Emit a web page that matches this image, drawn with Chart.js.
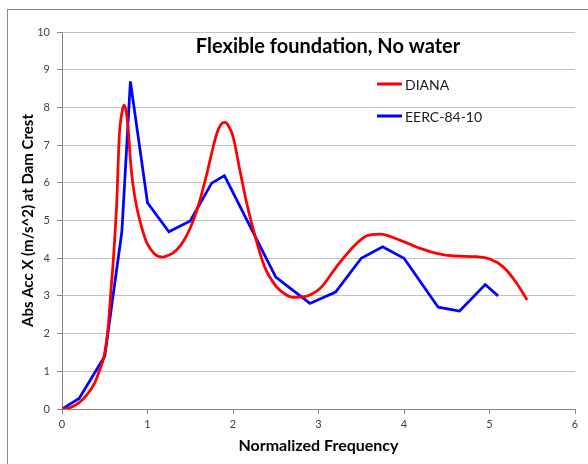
<!DOCTYPE html>
<html>
<head>
<meta charset="utf-8">
<script src="https://cdn.jsdelivr.net/npm/chart.js@4/dist/chart.umd.min.js"></script>
<style>
  html, body { margin: 0; padding: 0; background: #ffffff; }
  #wrap { width: 588px; height: 464px; position: relative; }
</style>
</head>
<body>
<div id="wrap"><canvas id="c" width="588" height="464"></canvas></div>
<script>
// ---- data ----
const chartTitle = 'Flexible foundation, No water';
const xAxisTitle = 'Normalized Frequency';
const yAxisTitle = 'Abs Acc X (m/s^2) at Dam Crest';
const seriesNames = ['DIANA', 'EERC-84-10'];
const seriesColors = ['#ff0000', '#0000ff'];

const dianaFreq = [0, 0.1, 0.2, 0.3, 0.38, 0.44, 0.49, 0.54, 0.57, 0.60, 0.64, 0.67, 0.70, 0.725, 0.75, 0.775, 0.80, 0.83, 0.87, 0.92, 0.99, 1.08, 1.175, 1.26, 1.34, 1.42, 1.50, 1.57, 1.63, 1.69, 1.75, 1.81, 1.86, 1.905, 1.95, 2.00, 2.08, 2.16, 2.26, 2.37, 2.51, 2.62, 2.70, 2.84, 3.02, 3.21, 3.41, 3.56, 3.72, 3.95, 4.19, 4.38, 4.58, 4.85, 5.01, 5.16, 5.32, 5.44];
const dianaAcc  = [0, 0.04, 0.17, 0.40, 0.68, 1.03, 1.38, 2.18, 3.07, 3.95, 5.46, 7.23, 7.85, 8.06, 7.90, 7.41, 6.61, 5.95, 5.40, 4.92, 4.42, 4.12, 4.03, 4.09, 4.22, 4.45, 4.80, 5.22, 5.68, 6.20, 6.78, 7.30, 7.55, 7.60, 7.50, 7.23, 6.34, 5.46, 4.57, 3.77, 3.24, 3.03, 2.96, 2.98, 3.20, 3.77, 4.31, 4.59, 4.64, 4.48, 4.26, 4.13, 4.06, 4.04, 3.97, 3.77, 3.33, 2.89];

const eercFreq = [0, 0.2, 0.5, 0.7, 0.8, 1.0, 1.25, 1.5, 1.75, 1.9, 2.5, 2.9, 3.2, 3.5, 3.75, 4.0, 4.4, 4.65, 4.95, 5.1];
const eercAcc  = [0, 0.28, 1.40, 4.70, 8.69, 5.47, 4.70, 4.99, 5.99, 6.19, 3.50, 2.80, 3.10, 4.00, 4.30, 4.00, 2.70, 2.60, 3.30, 3.00];

const xMin = 0, xMax = 6, xStep = 1;
const yMin = 0, yMax = 10, yStep = 1;

function toPoints(xs, ys) { return xs.map((x, i) => ({ x: x, y: ys[i] })); }

const FONT = 'Lato, "Open Sans", "DejaVu Sans", sans-serif';

const framePlugin = {
  id: 'frame',
  beforeDraw(chart) {
    const ctx = chart.ctx;
    ctx.save();
    ctx.fillStyle = '#ffffff';
    ctx.fillRect(0, 0, chart.width, chart.height);
    ctx.strokeStyle = '#8a8a8a';
    ctx.lineWidth = 1;
    ctx.strokeRect(7.5, 9.5, 700, 600);
    ctx.restore();
  }
};

const overlayPlugin = {
  id: 'overlay',
  afterDatasetsDraw(chart) {
    const ctx = chart.ctx;
    ctx.save();
    // title inside plot area
    ctx.fillStyle = '#000000';
    ctx.font = 'bold 20px ' + FONT;
    ctx.textAlign = 'center';
    ctx.textBaseline = 'middle';
    ctx.fillText(chartTitle, 328, 47);
    // legend inside plot area
    ctx.font = '14px ' + FONT;
    ctx.textAlign = 'left';
    chart.data.datasets.forEach((ds, i) => {
      const y = 84 + i * 32;
      ctx.strokeStyle = ds.borderColor;
      ctx.lineWidth = 3;
      ctx.beginPath();
      ctx.moveTo(377, y);
      ctx.lineTo(402, y);
      ctx.stroke();
      ctx.fillStyle = '#1a1a1a';
      ctx.fillText(ds.label, 405, y + 1);
    });
    ctx.restore();
  }
};

new Chart(document.getElementById('c'), {
  type: 'line',
  data: {
    datasets: [
      {
        label: seriesNames[0],
        data: toPoints(dianaFreq, dianaAcc),
        borderColor: seriesColors[0],
        backgroundColor: seriesColors[0],
        borderWidth: 2.75,
        pointRadius: 0,
        cubicInterpolationMode: 'monotone',
        fill: false
      },
      {
        label: seriesNames[1],
        data: toPoints(eercFreq, eercAcc),
        borderColor: seriesColors[1],
        backgroundColor: seriesColors[1],
        borderWidth: 2.75,
        pointRadius: 0,
        tension: 0,
        fill: false
      }
    ]
  },
  options: {
    responsive: false,
    animation: false,
    devicePixelRatio: 1,
    layout: { padding: { left: 0, top: 32, right: 13, bottom: 0 } },
    plugins: {
      legend: { display: false },
      title: { display: false },
      tooltip: { enabled: false }
    },
    scales: {
      x: {
        type: 'linear',
        min: xMin, max: xMax,
        afterFit(scale) { scale.height = 55; },
        ticks: { stepSize: xStep, color: '#404040', font: { family: FONT, size: 11 }, padding: 4, maxRotation: 0 },
        grid: { drawOnChartArea: false, drawTicks: true, tickLength: 5, color: '#868686', tickColor: '#868686' },
        border: { display: true, color: '#868686', width: 1 },
        title: { display: true, text: xAxisTitle, color: '#000000', font: { family: FONT, size: 16, weight: 'bold' }, padding: { top: 0, bottom: 9 } }
      },
      y: {
        type: 'linear',
        min: yMin, max: yMax,
        afterFit(scale) { scale.width = 62; },
        ticks: { stepSize: yStep, color: '#404040', font: { family: FONT, size: 11 }, padding: 7 },
        grid: { drawOnChartArea: true, drawTicks: true, tickLength: 5, color: '#c0c0c0', tickColor: '#868686', lineWidth: 1 },
        border: { display: true, color: '#868686', width: 1 },
        title: { display: true, text: yAxisTitle, color: '#000000', font: { family: FONT, size: 15, weight: 'bold' }, padding: { top: 19, bottom: 0 } }
      }
    }
  },
  plugins: [framePlugin, overlayPlugin]
});
</script>
</body>
</html>
